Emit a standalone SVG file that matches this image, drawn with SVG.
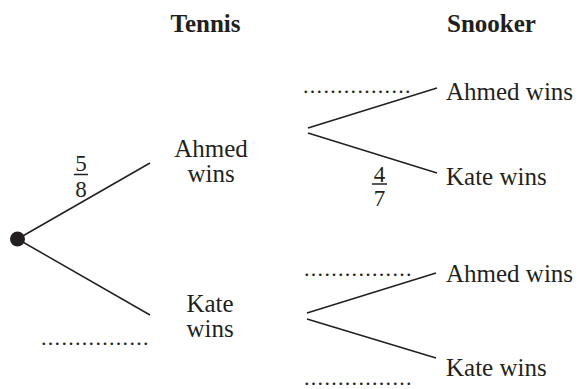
<svg xmlns="http://www.w3.org/2000/svg" width="581" height="389" viewBox="0 0 581 389">
<style>
.t{font-size:25px}
.h{font-size:25px;font-weight:bold;text-anchor:middle}
.c{text-anchor:middle}
.f{font-size:23px;text-anchor:middle}
.d{font-size:22px;letter-spacing:1.3px}
.ln{stroke:#231f20;stroke-width:1.5;fill:none}
</style>
<rect width="581" height="389" fill="#fff"/>
<g id="labels" font-family="'Liberation Serif', 'Times New Roman', Times, 'DejaVu Serif', serif" fill="#231f20">
<g id="headers">
<text class="h" x="205.5" y="32">Tennis</text>
<text class="h" x="491.5" y="32">Snooker</text>
</g>
<g id="tennis-ahmed">
<text class="t c" x="211" y="157">Ahmed</text>
<text class="t c" x="211" y="182">wins</text>
</g>
<g id="tennis-kate">
<text class="t c" x="210" y="312">Kate</text>
<text class="t c" x="210" y="337">wins</text>
</g>
<g id="snooker-a-ahmed"><text class="t" x="446" y="100">Ahmed wins</text></g>
<g id="snooker-a-kate"><text class="t" x="446" y="185">Kate wins</text></g>
<g id="snooker-k-ahmed"><text class="t" x="446" y="282">Ahmed wins</text></g>
<g id="snooker-k-kate"><text class="t" x="446" y="376">Kate wins</text></g>
<g id="prob-5-8">
<text class="f" x="81" y="171">5</text>
<text class="f" x="81" y="197">8</text>
</g>
<g id="prob-4-7">
<text class="f" x="379.5" y="181.5">4</text>
<text class="f" x="379.5" y="206">7</text>
</g>
<g id="blanks">
<text class="d" x="303" y="93">................</text>
<text class="d" x="304" y="275.5">................</text>
<text class="d" x="304" y="385">................</text>
<text class="d" x="41" y="344.5">................</text>
</g>
</g>
<g id="connectors">
<line class="ln" x1="17.5" y1="239" x2="150" y2="163"/>
<line class="ln" x1="17.5" y1="239" x2="150" y2="315"/>
<line class="ln" x1="308" y1="128" x2="437" y2="88"/>
<line class="ln" x1="308" y1="133" x2="437" y2="173"/>
<line class="ln" x1="307" y1="313" x2="436" y2="273"/>
<line class="ln" x1="307" y1="319" x2="436" y2="358"/>
<line class="ln" x1="74" y1="174.5" x2="88" y2="174.5"/>
<line class="ln" x1="372" y1="184" x2="387" y2="184"/>
</g>
<g id="root"><circle cx="17.5" cy="239" r="7.5" fill="#231f20"/></g>
</svg>
